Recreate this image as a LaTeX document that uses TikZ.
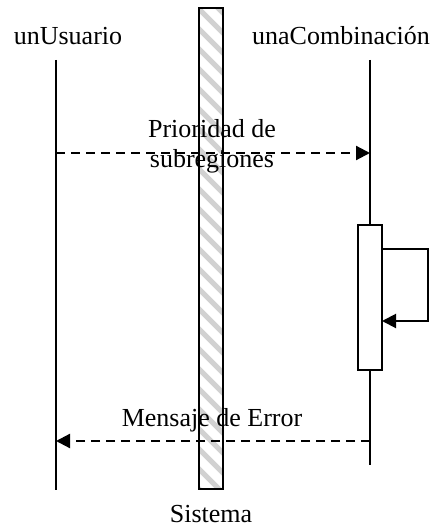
\documentclass[tikz,border=0pt]{standalone}
\usepackage{fontspec}
\setmainfont{Liberation Serif}
\usetikzlibrary{arrows.meta}
\begin{document}
\begin{tikzpicture}[x=1pt,y=-1pt,
  lbl/.style={font=\fontsize{26}{30}\selectfont, inner sep=0pt, anchor=base},
  lifeline/.style={line width=2pt},
  msg/.style={line width=2.2pt, dash pattern=on 9pt off 6pt, -{Triangle[length=14pt,width=14pt]}},
  selfmsg/.style={line width=2pt, -{Triangle[length=14pt,width=14pt]}},
  hatchline/.style={line width=5pt, black!18},
  act/.style={draw, line width=2pt, fill=white}]
\useasboundingbox (0,0) rectangle (436,529);

% system boundary bar with hatching
\begin{scope}
  \clip (199,8) rectangle (223,489);
  \foreach \k in {-2,...,26}
    \draw[hatchline] (190,\k*20) -- (240,\k*20+50);
\end{scope}
\draw[line width=2pt] (199,8) rectangle (223,489);
\node[lbl] (sys) at (211,522) {Sistema};

% participants
\node[lbl] (user) at (68,45) {unUsuario};
\node[lbl] (comb) at (341,45) {unaCombinación};

\coordinate (uTop) at (56,60);
\coordinate (uBot) at (56,490);
\coordinate (cTop) at (370,60);
\coordinate (cBot) at (370,465);
\draw[lifeline] (uTop) -- (uBot);
\draw[lifeline] (cTop) -- (cBot);

% activation on unaCombinacion
\node[act, minimum width=24pt, minimum height=145pt, inner sep=0pt] (actbox) at (370,297.5) {};

% self call
\coordinate (sA) at (382,249);
\coordinate (sB) at (428,249);
\coordinate (sC) at (428,321);
\coordinate (sD) at (382,321);
\draw[selfmsg] (sA) -- (sB) -- (sC) -- (sD);

% request message
\coordinate (m1s) at (56,153);
\coordinate (m1e) at (370,153);
\draw[msg] (m1s) -- (m1e);
\node[lbl] (m1a) at (212,138) {Prioridad de};
\node[lbl] (m1b) at (212,168) {subregiones};

% error reply
\coordinate (m2s) at (370,441);
\coordinate (m2e) at (56,441);
\draw[msg] (m2s) -- (m2e);
\node[lbl] (m2) at (212,426) {Mensaje de Error};
\end{tikzpicture}
\end{document}
